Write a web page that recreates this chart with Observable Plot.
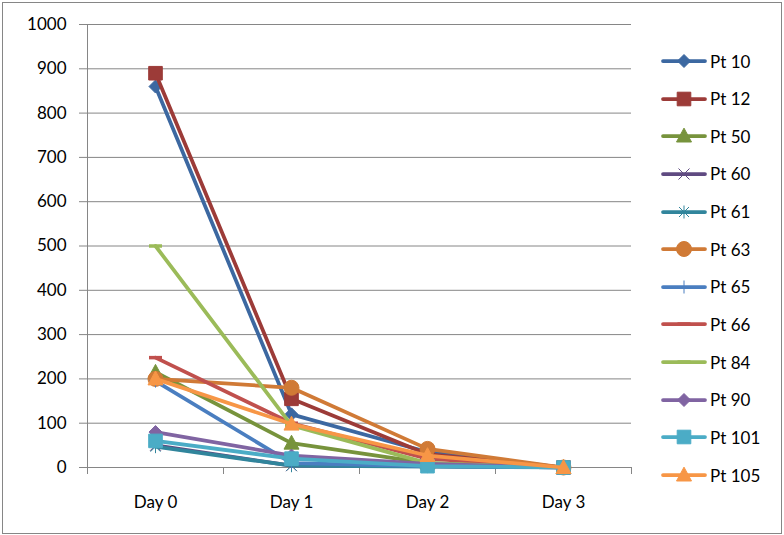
<!DOCTYPE html>
<html>
<head>
<meta charset="utf-8">
<script src="https://cdn.jsdelivr.net/npm/d3@7"></script>
<script src="https://cdn.jsdelivr.net/npm/@observablehq/plot@0.6"></script>
<style>
  html, body { margin: 0; padding: 0; background: #fff; }
  #wrap { position: relative; width: 784px; height: 535px; background: #fff; font-family: Lato, sans-serif; overflow: hidden; }
  #frame { position: absolute; left: 2px; top: 2px; width: 780px; height: 532px; box-sizing: border-box; border: 1px solid #868686; pointer-events: none; }
  #legend { position: absolute; left: 660px; top: 0; }
  .item { position: absolute; left: 0; height: 24px; display: flex; align-items: center; white-space: nowrap; font-size: 17px; color: #000; }
  .item svg { display: block; }
  .item span { margin-left: 2px; }
</style>
</head>
<body>
<div id="wrap"><div id="chart"></div><div id="legend"></div><div id="frame"></div></div>
<script>
// ---- data ----
const days = ["Day 0", "Day 1", "Day 2", "Day 3"];
const patients = ["Pt 10", "Pt 12", "Pt 50", "Pt 60", "Pt 61", "Pt 63", "Pt 65", "Pt 66", "Pt 84", "Pt 90", "Pt 101", "Pt 105"];
const pt10  = [860, 120, 35, 0];
const pt12  = [890, 155, 30, 0];
const pt50  = [215, 55, 10, 0];
const pt60  = [50, 4, 3, 0];
const pt61  = [47, 4, 2, 0];
const pt63  = [200, 180, 42, 0];
const pt65  = [195, 10, 3, 0];
const pt66  = [248, 100, 20, 0];
const pt84  = [500, 95, 10, 0];
const pt90  = [80, 27, 8, 0];
const pt101 = [60, 20, 3, 0];
const pt105 = [200, 98, 27, 0];
const yTicks = [0, 100, 200, 300, 400, 500, 600, 700, 800, 900, 1000];

const seriesValues = [pt10, pt12, pt50, pt60, pt61, pt63, pt65, pt66, pt84, pt90, pt101, pt105];
const colors = ["#3C68A1", "#9C3B38", "#77933C", "#5F4A81", "#31859C", "#D07A36",
                "#4A7EC0", "#C0504D", "#9BBB59", "#8064A2", "#4BACC6", "#F79646"];
const markerKinds = ["diamond", "square", "triangle", "times", "asterisk", "circle",
                     "plus", "dash", "dash", "diamond", "square", "triangle"];

// ---- custom Excel-like marker symbols ----
const R = s => Math.sqrt(s / Math.PI);
const symbols = {
  diamond: {draw(c, s) { const r = R(s); c.moveTo(0, -r); c.lineTo(r, 0); c.lineTo(0, r); c.lineTo(-r, 0); c.closePath(); }},
  square: {draw(c, s) { const r = R(s); c.moveTo(-r, -r); c.lineTo(r, -r); c.lineTo(r, r); c.lineTo(-r, r); c.closePath(); }},
  triangle: {draw(c, s) { const r = R(s); c.moveTo(0, -r * 1.05); c.lineTo(r, r * 0.8); c.lineTo(-r, r * 0.8); c.closePath(); }},
  circle: {draw(c, s) { const r = R(s); c.moveTo(r, 0); c.arc(0, 0, r, 0, 2 * Math.PI); c.closePath(); }},
  times: {draw(c, s) { const r = R(s); c.moveTo(-r, -r); c.lineTo(r, r); c.moveTo(-r, r); c.lineTo(r, -r); }},
  asterisk: {draw(c, s) { const r = R(s); c.moveTo(-r, -r); c.lineTo(r, r); c.moveTo(-r, r); c.lineTo(r, -r); c.moveTo(0, -r * 1.3); c.lineTo(0, r * 1.3); }},
  plus: {draw(c, s) { const r = R(s); c.moveTo(-r, 0); c.lineTo(r, 0); c.moveTo(0, -r); c.lineTo(0, r); }},
  dash: {draw(c, s) { const r = R(s); c.moveTo(-r, 0); c.lineTo(r, 0); }}
};
const markerStyle = {
  diamond:  {r: 6.5, filled: true,  sw: 1},
  square:   {r: 6.8, filled: true,  sw: 1},
  triangle: {r: 7.5, filled: true,  sw: 1},
  circle:   {r: 7.5, filled: true,  sw: 1},
  times:    {r: 5.5, filled: false, sw: 1},
  asterisk: {r: 5,   filled: false, sw: 1},
  plus:     {r: 6.5, filled: false, sw: 1},
  dash:     {r: 6.5, filled: false, sw: 3.5}
};

// ---- table ----
const rows = [];
patients.forEach((p, i) => seriesValues[i].forEach((v, d) => rows.push({pt: p, day: d, value: v})));

const gray = "#868686";
const boundaries = d3.range(-0.5, days.length, 1);

const marks = [
  Plot.gridY(yTicks, {stroke: gray, strokeOpacity: 1}),
  Plot.axisY({ticks: yTicks, tickSize: 8, tickPadding: 13, stroke: gray, fill: "#000", tickFormat: d => String(d), label: null}),
  Plot.axisX({ticks: boundaries, tickSize: 7, stroke: gray, tickFormat: () => "", label: null}),
  Plot.axisX({ticks: d3.range(days.length), tickSize: 0, tickPadding: 28, fill: "#000", tickFormat: i => days[i], label: null}),
  Plot.ruleX([-0.5], {stroke: gray}),
  Plot.ruleY([0], {stroke: gray})
];

patients.forEach((p, i) => {
  const data = rows.filter(r => r.pt === p);
  const kind = markerKinds[i];
  const ms = markerStyle[kind];
  marks.push(Plot.line(data, {x: "day", y: "value", stroke: colors[i], strokeWidth: 3.75,
    strokeLinejoin: "round", strokeLinecap: "round"}));
  marks.push(Plot.dot(data, {x: "day", y: "value", symbol: symbols[kind], r: ms.r,
    fill: ms.filled ? colors[i] : "none", stroke: colors[i], strokeWidth: ms.sw}));
});

const chart = Plot.plot({
  width: 784,
  height: 535,
  marginLeft: 87,
  marginRight: 153,
  marginTop: 24,
  marginBottom: 68,
  x: {domain: [-0.5, days.length - 0.5], axis: null},
  y: {domain: [0, 1000], axis: null},
  style: {fontFamily: "Lato, sans-serif", fontSize: "17px", color: "#000", background: "#fff"},
  marks
});
document.getElementById("chart").appendChild(chart);

// ---- legend ----
const legend = document.getElementById("legend");
const rowTop = 61, rowStep = 37.64;
patients.forEach((p, i) => {
  const kind = markerKinds[i];
  const ms = markerStyle[kind];
  const item = document.createElement("div");
  item.className = "item";
  item.style.top = (rowTop + i * rowStep - 12) + "px";
  const svg = d3.create("svg").attr("width", 48).attr("height", 24);
  svg.append("line").attr("x1", 3).attr("x2", 45).attr("y1", 12).attr("y2", 12)
    .attr("stroke", colors[i]).attr("stroke-width", 3.75).attr("stroke-linecap", "round");
  const path = d3.path();
  symbols[kind].draw(path, ms.r * ms.r * Math.PI);
  svg.append("path").attr("d", path.toString()).attr("transform", "translate(24,12)")
    .attr("fill", ms.filled ? colors[i] : "none").attr("stroke", colors[i]).attr("stroke-width", ms.sw);
  item.appendChild(svg.node());
  const span = document.createElement("span");
  span.textContent = p;
  item.appendChild(span);
  legend.appendChild(item);
});
</script>
</body>
</html>
